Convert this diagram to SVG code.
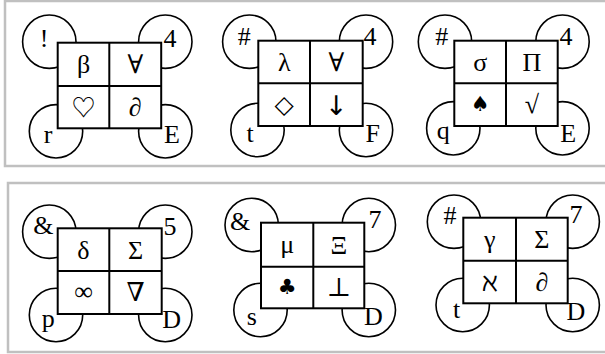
<svg xmlns="http://www.w3.org/2000/svg" width="605" height="354" viewBox="0 0 605 354">
<style>
.panel{fill:none;stroke:#c0c0c0;stroke-width:2.5}
.c{fill:#fff;stroke:#000;stroke-width:1.6}
.r{fill:#fff;stroke:#000;stroke-width:2}
.l{stroke:#000;stroke-width:2}
text{font-family:"Liberation Serif","DejaVu Serif",serif;font-size:26px;text-anchor:middle;fill:#000}
text.s{font-family:"DejaVu Sans",sans-serif;font-size:21px}
text.d{font-family:"DejaVu Sans",sans-serif;font-size:25px}
text.a{font-family:"DejaVu Sans",sans-serif;font-size:27px}
text.h{font-family:"Noto Sans CJK SC",sans-serif;font-size:24px}
</style>
<rect width="605" height="354" fill="#fff"/>
<rect class="panel" x="5" y="1" width="640" height="165"/>
<rect class="panel" x="8" y="183" width="640" height="169"/>
<g id="connectors"/>
<g id="node1">
<circle class="c" cx="49.3" cy="41.7" r="26.7"/><circle class="c" cx="165.3" cy="41.7" r="26.7"/>
<circle class="c" cx="56" cy="131.3" r="26.7"/><circle class="c" cx="165.3" cy="131.3" r="26.7"/>
<rect class="r" x="57.7" y="42.7" width="103.5" height="85.6"/>
<line class="l" x1="109.3" y1="42.7" x2="109.3" y2="128.3"/><line class="l" x1="57.7" y1="86" x2="161.2" y2="86"/>
<text x="44" y="47">!</text><text x="170" y="46.7">4</text><text x="48" y="143">r</text><text x="172" y="143">E</text>
<text x="83.5" y="73">β</text><text x="135.3" y="73">∀</text><text class="h" x="83.5" y="115.5">♡</text><text x="135.3" y="115.5">∂</text>
</g>
<g id="node2">
<circle class="c" cx="249.3" cy="41.7" r="26.7"/><circle class="c" cx="366" cy="41.7" r="26.7"/>
<circle class="c" cx="257.5" cy="130" r="26.7"/><circle class="c" cx="366" cy="130" r="26.7"/>
<rect class="r" x="258.3" y="40.7" width="104.4" height="85.3"/>
<line class="l" x1="310" y1="40.7" x2="310" y2="126"/><line class="l" x1="258.3" y1="83.3" x2="362.7" y2="83.3"/>
<text x="244.3" y="45">#</text><text x="370" y="44.5">4</text><text x="250" y="141.7">t</text><text x="372.7" y="141.7">F</text>
<text x="284.2" y="71">λ</text><text x="336.4" y="71">∀</text><text class="d" x="284.2" y="113">◇</text><text class="a" x="336.4" y="115">↓</text>
</g>
<g id="node3">
<circle class="c" cx="445" cy="41.7" r="26.7"/><circle class="c" cx="562.5" cy="41.7" r="26.7"/>
<circle class="c" cx="453.3" cy="128.3" r="26.7"/><circle class="c" cx="562.5" cy="128.3" r="26.7"/>
<rect class="r" x="454.3" y="40.7" width="103.4" height="85.3"/>
<line class="l" x1="506" y1="40.7" x2="506" y2="126"/><line class="l" x1="454.3" y1="83.3" x2="557.7" y2="83.3"/>
<text x="441.7" y="45">#</text><text x="566" y="45">4</text><text x="443.3" y="139.3">q</text><text x="568.3" y="141.7">E</text>
<text x="480.2" y="71">σ</text><text x="531.9" y="71">Π</text><text class="s" x="480.2" y="111">♠</text><text x="531.9" y="113">√</text>
</g>
<g id="node4">
<circle class="c" cx="49.3" cy="231.7" r="26.7"/><circle class="c" cx="165.3" cy="231.7" r="26.7"/>
<circle class="c" cx="56" cy="315" r="26.7"/><circle class="c" cx="165.3" cy="315" r="26.7"/>
<rect class="r" x="57.7" y="228.3" width="104" height="85.7"/>
<line class="l" x1="109.3" y1="228.3" x2="109.3" y2="314"/><line class="l" x1="57.7" y1="271" x2="161.7" y2="271"/>
<text x="43.3" y="233.5">&amp;</text><text x="170" y="235">5</text><text x="48.3" y="326.7">p</text><text x="171.7" y="328">D</text>
<text x="83.5" y="258.5">δ</text><text x="135.5" y="258.5">Σ</text><text x="83.5" y="300">∞</text><text x="135.5" y="301">∇</text>
</g>
<g id="node5">
<circle class="c" cx="251.7" cy="225" r="26.7"/><circle class="c" cx="368.8" cy="225" r="26.7"/>
<circle class="c" cx="260.5" cy="310" r="26.7"/><circle class="c" cx="368.8" cy="310" r="26.7"/>
<rect class="r" x="261" y="222.7" width="103.3" height="85.6"/>
<line class="l" x1="313.3" y1="222.7" x2="313.3" y2="308.3"/><line class="l" x1="261" y1="266.7" x2="364.3" y2="266.7"/>
<text x="240" y="230">&amp;</text><text x="375" y="228">7</text><text x="251.7" y="325">s</text><text x="373.3" y="325">D</text>
<text x="287.2" y="253">μ</text><text x="338.8" y="253.5">Ξ</text><text class="s" x="287.2" y="294">♣</text><text x="338.8" y="296">⊥</text>
</g>
<g id="node6">
<circle class="c" cx="454" cy="221.7" r="26.7"/><circle class="c" cx="572.7" cy="221.7" r="26.7"/>
<circle class="c" cx="462.7" cy="305" r="26.7"/><circle class="c" cx="572.7" cy="305" r="26.7"/>
<rect class="r" x="463.3" y="217.7" width="104.4" height="85.6"/>
<line class="l" x1="516" y1="217.7" x2="516" y2="303.3"/><line class="l" x1="463.3" y1="260.7" x2="567.7" y2="260.7"/>
<text x="450" y="224">#</text><text x="576" y="223.3">7</text><text x="456.7" y="318.3">t</text><text x="576" y="320">D</text>
<text x="489.7" y="248">γ</text><text x="541.9" y="248">Σ</text><text x="489.7" y="290.5">ℵ</text><text x="541.9" y="290.5">∂</text>
</g>
</svg>
